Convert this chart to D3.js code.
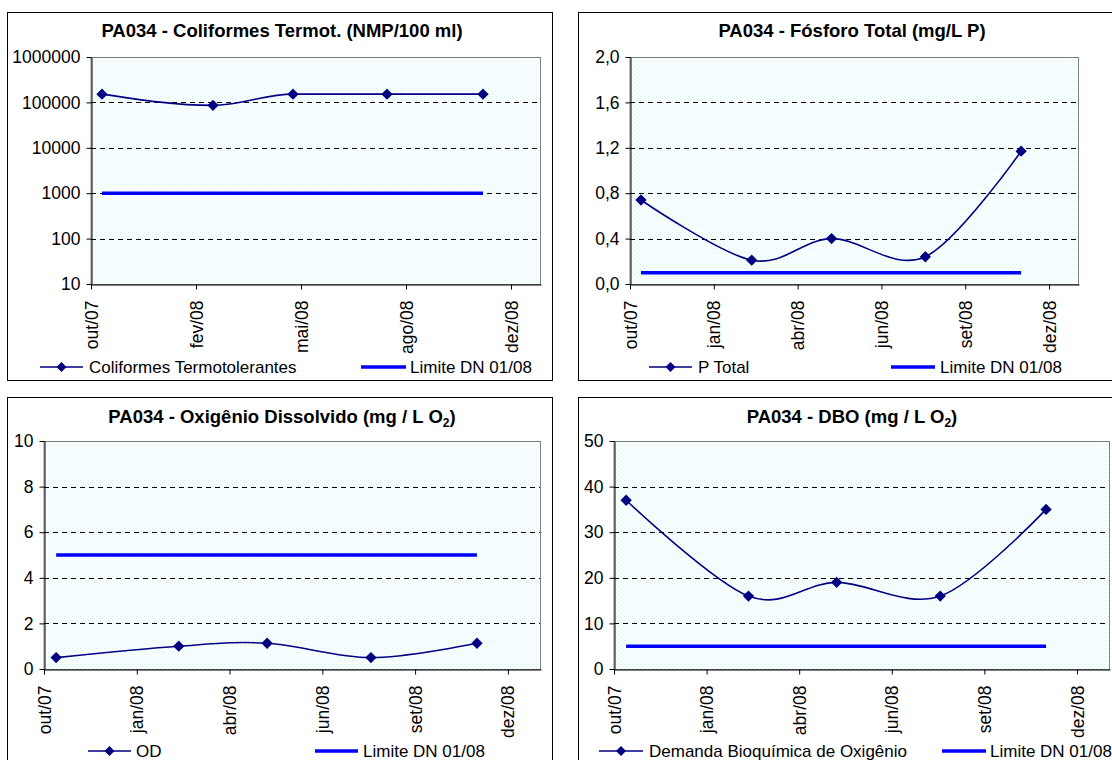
<!DOCTYPE html>
<html><head><meta charset="utf-8">
<script src="https://cdn.jsdelivr.net/npm/d3@7"></script>
<style>
body{margin:0;background:#fff}
svg{display:block}
text{font-family:"Liberation Sans",Arial,Helvetica,sans-serif;fill:#000}
</style>
</head><body>
<svg id="chart" width="1112" height="760"></svg>
<script>
// ---------- data ----------
const domainStart = "2007-10-20";
const domainEnd = "2009-01-12";
const sampleDates = ["2007-10-31", "2008-02-19", "2008-05-09", "2008-08-11", "2008-11-15"];

const coliformes = [152000, 86000, 152000, 152000, 152000];
const pTotal = [0.74, 0.21, 0.40, 0.24, 1.17];
const od = [0.5, 1.0, 1.13, 0.5, 1.13];
const dbo = [37, 16, 19, 16, 35];

const limitColiformes = 1000;
const limitP = 0.1;
const limitOD = 5;
const limitDBO = 5;

const xTicksColi = ["2007-10-20", "2008-02-02", "2008-05-17", "2008-08-30", "2008-12-13"];
const xLabelsColi = ["out/07", "fev/08", "mai/08", "ago/08", "dez/08"];
const xTicksOther = ["2007-10-20", "2008-01-12", "2008-04-05", "2008-06-28", "2008-09-20", "2008-12-13"];
const xLabelsOther = ["out/07", "jan/08", "abr/08", "jun/08", "set/08", "dez/08"];

const yTicksColi = [10, 100, 1000, 10000, 100000, 1000000];
const yLabelsColi = ["10", "100", "1000", "10000", "100000", "1000000"];
const yTicksP = [0, 0.4, 0.8, 1.2, 1.6, 2.0];
const yLabelsP = ["0,0", "0,4", "0,8", "1,2", "1,6", "2,0"];
const yTicksOD = [0, 2, 4, 6, 8, 10];
const yLabelsOD = ["0", "2", "4", "6", "8", "10"];
const yTicksDBO = [0, 10, 20, 30, 40, 50];
const yLabelsDBO = ["0", "10", "20", "30", "40", "50"];

const limitLabel = "Limite DN 01/08";

// ---------- layout ----------
const parse = d3.timeParse("%Y-%m-%d");
const svg = d3.select("#chart");
const SERIES = "#000080", LIMIT = "#0000FF";

const defs = svg.append("defs");
const pat = defs.append("pattern").attr("id", "dots").attr("width", 4).attr("height", 4)
  .attr("patternUnits", "userSpaceOnUse");
pat.append("rect").attr("width", 4).attr("height", 4).attr("fill", "#ffffff");
pat.append("rect").attr("x", 0).attr("y", 0).attr("width", 1).attr("height", 1).attr("fill", "#d0f6f6");
pat.append("rect").attr("x", 2).attr("y", 2).attr("width", 1).attr("height", 1).attr("fill", "#d0f6f6");

const panels = [
  { box: [7, 12, 545, 368], plot: { l: 91, r: 541, t: 57, b: 284 }, titleX: 282, titleY: 37,
    title: ["PA034 - Coliformes Termot. (NMP/100 ml)"], log: true, values: coliformes, limit: limitColiformes,
    yTicks: yTicksColi, yLabels: yLabelsColi, xTicks: xTicksColi, xLabels: xLabelsColi,
    seriesName: "Coliformes Termotolerantes", curve: d3.curveMonotoneX,
    legend: { y: 367, s: [40, 83, 89], l: [361, 406, 410] } },
  { box: [578, 12, 545, 368], plot: { l: 630, r: 1079, t: 57, b: 284 }, titleX: 852, titleY: 37,
    title: ["PA034 - Fósforo Total (mg/L P)"], log: false, values: pTotal, limit: limitP,
    yTicks: yTicksP, yLabels: yLabelsP, xTicks: xTicksOther, xLabels: xLabelsOther,
    seriesName: "P Total", curve: d3.curveCardinal.tension(0),
    legend: { y: 367, s: [649, 692, 698], l: [891, 935, 940] } },
  { box: [7, 397, 545, 380], plot: { l: 44, r: 541, t: 441, b: 669 }, titleX: 282, titleY: 423,
    title: ["PA034 - Oxigênio Dissolvido (mg / L O", "2", ")"], log: false, values: od, limit: limitOD,
    yTicks: yTicksOD, yLabels: yLabelsOD, xTicks: xTicksOther, xLabels: xLabelsOther,
    seriesName: "OD", curve: d3.curveCardinal.tension(0),
    legend: { y: 751, s: [88, 131, 136], l: [315, 358, 363] } },
  { box: [578, 397, 545, 380], plot: { l: 614, r: 1110, t: 441, b: 669 }, titleX: 852, titleY: 423,
    title: ["PA034 - DBO (mg / L O", "2", ")"], log: false, values: dbo, limit: limitDBO,
    yTicks: yTicksDBO, yLabels: yLabelsDBO, xTicks: xTicksOther, xLabels: xLabelsOther,
    seriesName: "Demanda Bioquímica de Oxigênio", curve: d3.curveCardinal.tension(0),
    legend: { y: 751, s: [599, 643, 649], l: [942, 986, 990] } }
];

function diamond(sel, size) {
  return sel.attr("d", d3.symbol().type(d3.symbolSquare).size(size));
}

panels.forEach(p => {
  const g = svg.append("g");
  const P = p.plot;
  // outer box
  g.append("rect").attr("x", p.box[0] + 0.5).attr("y", p.box[1] + 0.5)
    .attr("width", p.box[2]).attr("height", p.box[3])
    .attr("fill", "#fff").attr("stroke", "#000").attr("stroke-width", 1);

  const x = d3.scaleTime().domain([parse(domainStart), parse(domainEnd)]).range([P.l, P.r]);
  const y = (p.log ? d3.scaleLog() : d3.scaleLinear())
    .domain([p.yTicks[0], p.yTicks[p.yTicks.length - 1]]).range([P.b, P.t]);

  // plot area
  g.append("rect").attr("x", P.l).attr("y", P.t + 0.5).attr("width", P.r - P.l - 0.5).attr("height", P.b - P.t)
    .attr("fill", "url(#dots)").attr("stroke", "#808080").attr("stroke-width", 1);

  // gridlines
  g.append("g").selectAll("line").data(p.yTicks.slice(1, -1)).join("line")
    .attr("x1", P.l).attr("x2", P.r - 1)
    .attr("y1", d => Math.round(y(d)) + 0.5).attr("y2", d => Math.round(y(d)) + 0.5)
    .attr("stroke", "#000").attr("stroke-width", 1).attr("stroke-dasharray", "5,4");

  // axes
  const yAxis = d3.axisLeft(y).tickValues(p.yTicks).tickFormat((d, i) => p.yLabels[i])
    .tickSize(5).tickSizeOuter(0).tickPadding(6);
  const ya = g.append("g").attr("transform", `translate(${P.l + 0.5},0)`).call(yAxis);
  const xAxis = d3.axisBottom(x).tickValues(p.xTicks.map(parse)).tickFormat((d, i) => p.xLabels[i])
    .tickSize(5).tickSizeOuter(0);
  const xa = g.append("g").attr("transform", `translate(0,${P.b + 0.5})`).call(xAxis);
  [ya, xa].forEach(a => {
    a.select(".domain").attr("stroke", "#000");
    a.selectAll(".tick line").attr("stroke", "#000");
    a.selectAll("text").attr("font-size", 17.5).attr("fill", "#000")
      .attr("font-family", '"Liberation Sans",Arial,sans-serif');
  });
  xa.selectAll(".tick text")
    .attr("text-anchor", "end").attr("y", 0).attr("dy", "0.35em")
    .attr("transform", "translate(0,16) rotate(-90)");

  // limit line
  const lim = sampleDates.map(d => ({ date: parse(d), v: p.limit }));
  g.append("path").datum(lim)
    .attr("d", d3.line().x(d => x(d.date)).y(d => y(d.v)))
    .attr("fill", "none").attr("stroke", LIMIT).attr("stroke-width", 3.5);

  // series
  const pts = sampleDates.map((d, i) => ({ date: parse(d), v: p.values[i] }));
  g.append("path").datum(pts)
    .attr("d", d3.line().x(d => x(d.date)).y(d => y(d.v)).curve(p.curve))
    .attr("fill", "none").attr("stroke", SERIES).attr("stroke-width", 1.6);
  g.append("g").selectAll("path").data(pts).join("path")
    .call(diamond, 64)
    .attr("transform", d => `translate(${x(d.date)},${y(d.v)}) rotate(45)`)
    .attr("fill", SERIES);

  // title
  const t = g.append("text").attr("x", p.titleX).attr("y", p.titleY)
    .attr("text-anchor", "middle").attr("font-size", 18.5).attr("font-weight", "bold");
  t.append("tspan").text(p.title[0]);
  if (p.title.length > 1) {
    t.append("tspan").attr("font-size", 12).attr("dy", 4).text(p.title[1]);
    t.append("tspan").attr("dy", -4).text(p.title[2]);
  }

  // legend
  const L = p.legend;
  g.append("line").attr("x1", L.s[0]).attr("x2", L.s[1]).attr("y1", L.y).attr("y2", L.y)
    .attr("stroke", SERIES).attr("stroke-width", 1.6);
  g.append("path").call(diamond, 50)
    .attr("transform", `translate(${(L.s[0] + L.s[1]) / 2},${L.y}) rotate(45)`).attr("fill", SERIES);
  g.append("text").attr("x", L.s[2]).attr("y", L.y).attr("dy", "0.36em").attr("font-size", 17)
    .text(p.seriesName);
  g.append("line").attr("x1", L.l[0]).attr("x2", L.l[1]).attr("y1", L.y).attr("y2", L.y)
    .attr("stroke", LIMIT).attr("stroke-width", 3.5);
  g.append("text").attr("x", L.l[2]).attr("y", L.y).attr("dy", "0.36em").attr("font-size", 17)
    .text(limitLabel);
});
</script>
</body></html>
